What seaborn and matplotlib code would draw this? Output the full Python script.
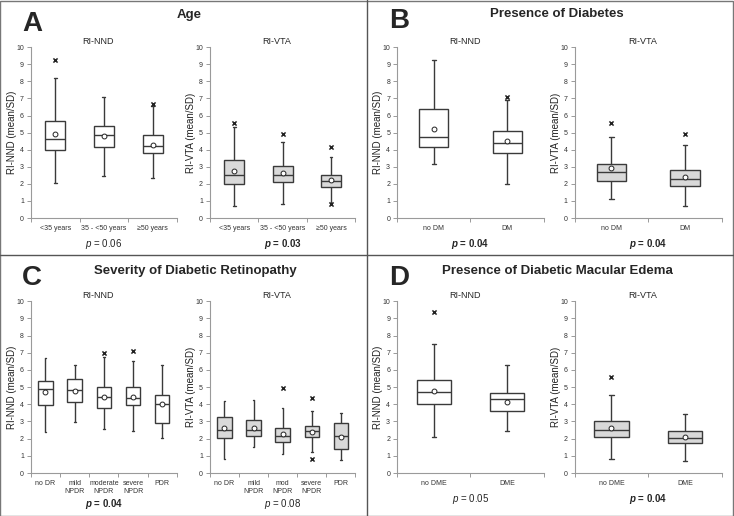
import numpy as np
import pandas as pd
import matplotlib
matplotlib.use("Agg")
import matplotlib.pyplot as plt
import seaborn as sns
from matplotlib.lines import Line2D
from matplotlib.patches import Rectangle

# box stats per group: lower whisker, Q1, median, Q3, upper whisker
age_cats = ['<35 years', '35 - <50 years', '\u226550 years']
age_nnd_box = [[2.05, 3.98, 4.62, 5.68, 8.18], [2.46, 4.18, 4.84, 5.41, 7.07], [2.36, 3.79, 4.22, 4.86, 6.58]]
age_nnd_mean = [4.90, 4.82, 4.30]
age_nnd_out = [[9.28], [], [6.70]]
age_vta_box = [[0.70, 2.01, 2.53, 3.37, 5.34], [0.82, 2.09, 2.50, 3.02, 4.44], [0.90, 1.83, 2.14, 2.51, 3.55]]
age_vta_mean = [2.73, 2.61, 2.20]
age_vta_out = [[5.56], [4.91], [4.13, 0.80]]

dm_cats = ['no DM', 'DM']
dm_nnd_box = [[3.16, 4.18, 4.75, 6.39, 9.28], [2.01, 3.83, 4.41, 5.10, 6.93]]
dm_nnd_mean = [5.22, 4.49]
dm_nnd_out = [[], [7.07]]
dm_vta_box = [[1.11, 2.17, 2.71, 3.18, 4.77], [0.68, 1.86, 2.29, 2.83, 4.28]]
dm_vta_mean = [2.95, 2.40]
dm_vta_out = [[5.55], [4.92]]

dr_nnd_cats = ['no DR', 'mild\nNPDR', 'moderate\nNPDR', 'severe\nNPDR', 'PDR']
dr_vta_cats = ['no DR', 'mild\nNPDR', 'mod\nNPDR', 'severe\nNPDR', 'PDR']
dr_nnd_box = [[2.36, 3.95, 4.90, 5.37, 6.72], [2.99, 4.16, 4.82, 5.45, 6.27], [2.58, 3.79, 4.43, 4.98, 6.74],
              [2.46, 3.93, 4.39, 4.98, 6.54], [2.05, 2.89, 4.00, 4.53, 6.27]]
dr_nnd_mean = [4.69, 4.80, 4.43, 4.43, 4.00]
dr_nnd_out = [[], [], [6.99], [7.13], []]
dr_vta_box = [[0.82, 2.05, 2.48, 3.26, 4.18], [1.52, 2.17, 2.52, 3.07, 4.26], [1.11, 1.82, 2.17, 2.62, 3.79],
              [1.25, 2.11, 2.42, 2.71, 3.59], [0.74, 1.41, 2.15, 2.89, 3.50]]
dr_vta_mean = [2.60, 2.62, 2.27, 2.40, 2.11]
dr_vta_out = [[], [], [4.96], [4.34, 0.84], []]

dme_cats = ['no DME', 'DME']
dme_nnd_box = [[2.09, 4.04, 4.71, 5.43, 7.50], [2.44, 3.59, 4.32, 4.67, 6.27]]
dme_nnd_mean = [4.80, 4.14]
dme_nnd_out = [[9.36], []]
dme_vta_box = [[0.82, 2.09, 2.52, 3.03, 4.53], [0.72, 1.74, 2.05, 2.46, 3.46]]
dme_vta_mean = [2.64, 2.09]
dme_vta_out = [[5.57], []]

p_values = ['0.06', '0.03', '0.04', '0.04', '0.04', '0.08', '0.05', '0.04']
p_bold = [False, True, True, True, True, False, False, True]

sns.set_style("ticks")
plt.rcParams['font.family'] = ['Liberation Sans', 'DejaVu Sans']
plt.rcParams['mathtext.fontset'] = 'custom'
plt.rcParams['mathtext.it'] = 'Liberation Sans:italic'
plt.rcParams['mathtext.bfit'] = 'Liberation Sans:bold:italic'

fig = plt.figure(figsize=(7.34, 5.16), dpi=100)

axes_pos = [
    [0.042, 0.5775, 0.199, 0.331], [0.286, 0.5775, 0.198, 0.331],
    [0.541, 0.5775, 0.200, 0.331], [0.783, 0.5775, 0.200, 0.331],
    [0.042, 0.0833, 0.199, 0.333], [0.286, 0.0833, 0.198, 0.333],
    [0.541, 0.0833, 0.200, 0.333], [0.783, 0.0833, 0.200, 0.333],
]

panels = [
    (age_cats, age_nnd_box, age_nnd_mean, age_nnd_out, 'NND', 0.41),
    (age_cats, age_vta_box, age_vta_mean, age_vta_out, 'VTA', 0.41),
    (dm_cats, dm_nnd_box, dm_nnd_mean, dm_nnd_out, 'NND', 0.40),
    (dm_cats, dm_vta_box, dm_vta_mean, dm_vta_out, 'VTA', 0.40),
    (dr_nnd_cats, dr_nnd_box, dr_nnd_mean, dr_nnd_out, 'NND', 0.49),
    (dr_vta_cats, dr_vta_box, dr_vta_mean, dr_vta_out, 'VTA', 0.49),
    (dme_cats, dme_nnd_box, dme_nnd_mean, dme_nnd_out, 'NND', 0.47),
    (dme_cats, dme_vta_box, dme_vta_mean, dme_vta_out, 'VTA', 0.47),
]

edge = '#3a3a3a'
for i, (cats, box, means, outs, kind, width) in enumerate(panels):
    ax = fig.add_axes(axes_pos[i])
    df = pd.DataFrame([(c, v) for c, vals in zip(cats, box) for v in vals], columns=['group', 'value'])
    fill = 'white' if kind == 'NND' else '#d9d9d9'
    sns.boxplot(data=df, x='group', y='value', order=cats, ax=ax, whis=np.inf, width=width,
                color=fill, linecolor=edge, linewidth=1.0, saturation=1, capwidths=0.06)
    mdf = pd.DataFrame({'group': cats, 'value': means})
    sns.stripplot(data=mdf, x='group', y='value', order=cats, ax=ax, jitter=False, marker='o',
                  size=3.5, color='white', edgecolor='#222222', linewidth=0.7, zorder=5)
    odf = pd.DataFrame([(c, v) for c, vals in zip(cats, outs) for v in vals], columns=['group', 'value'])
    if len(odf):
        sns.stripplot(data=odf, x='group', y='value', order=cats, ax=ax, jitter=False, marker='x',
                      size=3, color='#222222', linewidth=1.1, zorder=5)

    n = len(cats)
    ax.set_ylim(0, 10)
    ax.set_xlim(-0.5, n - 0.5)
    ax.set_yticks(range(11))
    ax.set_xticks(np.arange(-0.5, n), minor=True)
    ax.tick_params(axis='x', which='major', length=0, labelsize=5, pad=5, colors='#333333')
    ax.tick_params(axis='x', which='minor', length=3, color='#9a9a9a', width=0.7)
    ax.tick_params(axis='y', length=3, color='#9a9a9a', width=0.7, labelsize=5, pad=2, labelcolor='#333333')
    sns.despine(ax=ax)
    for s in ['left', 'bottom']:
        ax.spines[s].set_color('#9a9a9a')
        ax.spines[s].set_linewidth(0.8)
    ax.set_xlabel('')
    ax.set_ylabel('RI-%s (mean/SD)' % kind, fontsize=7, color='#222222')
    ax.yaxis.set_label_coords(-0.095, 0.5)
    ax.text(0.46, 1.035, 'RI-%s' % kind, transform=ax.transAxes, ha='center', va='center', fontsize=6.5)

    py = -0.18 if i in (4, 5) else -0.152
    if p_bold[i]:
        ax.text(0.5, py, r'$\mathbfit{p}$ = ' + p_values[i], transform=ax.transAxes, ha='center',
                va='center', fontsize=7, fontweight='bold')
    else:
        ax.text(0.5, py, r'$\mathit{p}$ = ' + p_values[i], transform=ax.transAxes, ha='center',
                va='center', fontsize=7)

# panel letters and headings
for letter, x, y in [('A', 0.030, 0.940), ('B', 0.530, 0.946), ('C', 0.030, 0.448), ('D', 0.530, 0.448)]:
    fig.text(x, y, letter, fontsize=20, fontweight='bold', ha='left', va='baseline')
for title, x, y in [('Age', 0.2575, 0.971), ('Presence of Diabetes', 0.759, 0.973),
                    ('Severity of Diabetic Retinopathy', 0.266, 0.475),
                    ('Presence of Diabetic Macular Edema', 0.760, 0.475)]:
    fig.text(x, y, title, fontsize=9.5, fontweight='bold', ha='center', va='center')

fig.add_artist(Line2D([0.5, 0.5], [0, 1], transform=fig.transFigure, color='#555555', lw=1))
fig.add_artist(Line2D([0, 1], [0.506, 0.506], transform=fig.transFigure, color='#555555', lw=1))
fig.add_artist(Rectangle((0, 0), 0.999, 0.998, transform=fig.transFigure, fill=False, ec='#777777', lw=1))

plt.savefig('out.png', dpi=100)
plt.close()
